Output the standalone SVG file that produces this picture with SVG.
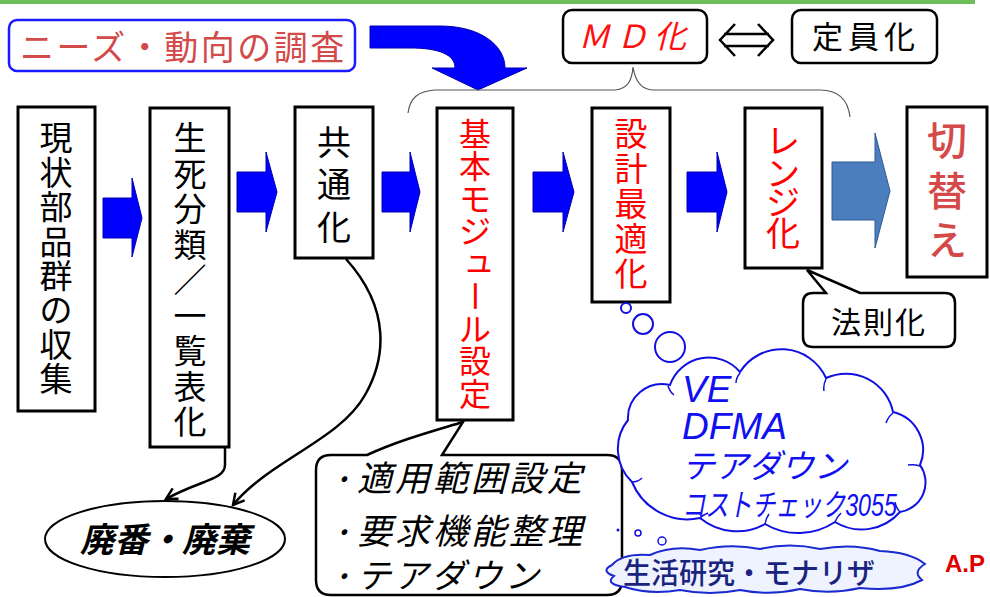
<svg xmlns="http://www.w3.org/2000/svg" width="990" height="597" viewBox="0 0 990 597">
<defs>
<style>
.jp{font-family:"Noto Sans CJK JP","Noto Sans",sans-serif;}
.box{fill:#fff;stroke:#000;stroke-width:3;}
.rbox{fill:#fff;stroke:#000;stroke-width:2.5;}
.barrow{fill:#0000ff;stroke:#0000b0;stroke-width:1;}
.vt{font-family:"Noto Sans CJK JP","Noto Sans",sans-serif;text-anchor:middle;}
.conn{fill:none;stroke:#000;stroke-width:2.5;}
.cloud{fill:#fff;stroke:#1010e0;stroke-width:2;}
.ct{font-family:"Liberation Sans","Noto Sans CJK JP",sans-serif;font-style:italic;fill:#1010f0;}
.cb{font-family:"Noto Sans CJK JP","Noto Sans",sans-serif;font-style:italic;fill:#000;}
</style>
<marker id="vhead" markerWidth="16" markerHeight="16" refX="13" refY="8" orient="auto" markerUnits="userSpaceOnUse">
<path d="M2,2 L13,8 L2,14" fill="none" stroke="#000" stroke-width="2.5"/>
</marker>
</defs>
<rect width="990" height="597" fill="#fff"/>
<rect x="0" y="0" width="975" height="4" fill="#6cbf5a"/>

<g id="needs">
<rect x="9" y="20" width="346" height="51" rx="8" fill="#fff" stroke="#1a1aff" stroke-width="2.5"/>
<text class="jp" x="20" y="60" font-size="34" fill="#d24a4a" letter-spacing="2.5">ニーズ・動向の調査</text>
</g>

<g id="md">
<rect class="rbox" x="563" y="10" width="144" height="53" rx="9"/>
<text class="jp" x="635" y="48" font-size="32" fill="#ff1010" font-style="italic" text-anchor="middle" letter-spacing="6">ＭＤ化</text>
</g>
<g id="teiin">
<rect class="rbox" x="792" y="10" width="145" height="53" rx="9"/>
<text class="jp" x="866" y="48" font-size="31" fill="#000" text-anchor="middle" letter-spacing="5">定員化</text>
</g>

<g id="box1">
<rect class="box" x="18" y="107" width="77" height="304"/>
<text class="vt" font-size="33" fill="#000"><tspan x="56" y="150">現</tspan><tspan x="56" y="185">状</tspan><tspan x="56" y="219">部</tspan><tspan x="56" y="254">品</tspan><tspan x="56" y="288">群</tspan><tspan x="56" y="322">の</tspan><tspan x="56" y="357">収</tspan><tspan x="56" y="391">集</tspan></text>
</g>
<g id="box2">
<rect class="box" x="150" y="108" width="79" height="339"/>
<text class="vt" font-size="33" fill="#000"><tspan x="190" y="150">生</tspan><tspan x="190" y="186">死</tspan><tspan x="190" y="221">分</tspan><tspan x="190" y="257">類</tspan><tspan x="190" y="292">／</tspan><tspan x="190" y="328">一</tspan><tspan x="190" y="363">覧</tspan><tspan x="190" y="399">表</tspan><tspan x="190" y="434">化</tspan></text>
</g>
<g id="box3">
<rect class="box" x="295" y="107" width="78" height="151"/>
<text class="vt" font-size="34" fill="#000"><tspan x="334" y="155">共</tspan><tspan x="334" y="197">通</tspan><tspan x="334" y="240">化</tspan></text>
</g>
<g id="box4">
<rect class="box" x="437" y="108" width="76" height="312"/>
<text class="vt" font-size="32" fill="#ff0000"><tspan x="475" y="146">基</tspan><tspan x="475" y="178">本</tspan><tspan x="475" y="211">モ</tspan><tspan x="475" y="243">ジ</tspan><tspan x="479" y="272">ュ</tspan></text>
<text class="vt" font-size="32" fill="#ff0000" x="475" y="308" transform="rotate(90 475 296)">ー</text>
<text class="vt" font-size="32" fill="#ff0000"><tspan x="475" y="341">ル</tspan><tspan x="475" y="373">設</tspan><tspan x="475" y="406">定</tspan></text>
</g>
<g id="box5">
<rect class="box" x="592" y="108" width="78" height="194"/>
<text class="vt" font-size="33" fill="#ff0000"><tspan x="631" y="146">設</tspan><tspan x="631" y="181">計</tspan><tspan x="631" y="216">最</tspan><tspan x="631" y="251">適</tspan><tspan x="631" y="286">化</tspan></text>
</g>
<g id="box6">
<rect class="box" x="745" y="108" width="77" height="160"/>
<text class="vt" font-size="34" fill="#ff0000"><tspan x="783" y="153">レ</tspan><tspan x="783" y="186">ン</tspan><tspan x="783" y="215">ジ</tspan><tspan x="783" y="246">化</tspan></text>
</g>
<g id="box7">
<rect class="box" x="907" y="107" width="80" height="170"/>
<text class="vt" font-size="40" fill="#d44a4a" font-weight="500"><tspan x="947" y="155">切</tspan><tspan x="947" y="206">替</tspan><tspan x="947" y="255">え</tspan></text>
</g>

<g id="haiban">
<ellipse cx="165" cy="539" rx="120" ry="38" fill="#fff" stroke="#000" stroke-width="2"/>
<text class="jp" x="165" y="552" font-size="34" font-weight="bold" font-style="italic" text-anchor="middle">廃番・廃棄</text>
</g>

<g id="callout-kihon">
<path d="M331,455 L367,455 C400,440 430,432 463,422 L442,455 L607,455 Q622,455 622,470 L622,580 Q622,595 607,595 L331,595 Q316,595 316,580 L316,470 Q316,455 331,455 Z" fill="#fff" stroke="#000" stroke-width="2.5"/>
<text class="cb" x="342" y="489" font-size="26" text-anchor="middle">・</text>
<text class="cb" x="357" y="491" font-size="35" letter-spacing="3">適用範囲設定</text>
<text class="cb" x="342" y="542" font-size="26" text-anchor="middle">・</text>
<text class="cb" x="357" y="544" font-size="35" letter-spacing="3">要求機能整理</text>
<text class="cb" x="342" y="586" font-size="26" text-anchor="middle">・</text>
<text class="cb" x="357" y="588" font-size="34" letter-spacing="3">テアダウン</text>
</g>

<g id="callout-hosoku">
<path d="M813,293 L826,293 L807,270 L860,293 L945,293 Q955,293 955,303 L955,337 Q955,347 945,347 L813,347 Q803,347 803,337 L803,303 Q803,293 813,293 Z" fill="#fff" stroke="#000" stroke-width="2.5"/>
<text class="jp" x="879" y="333" font-size="30" text-anchor="middle" letter-spacing="2">法則化</text>
</g>

<g id="cloud-ve">
<circle cx="626" cy="308" r="5" fill="#fff" stroke="#1010e0" stroke-width="2"/>
<circle cx="643" cy="324" r="10" fill="#fff" stroke="#1010e0" stroke-width="2"/>
<circle cx="670" cy="347" r="15" fill="#fff" stroke="#1010e0" stroke-width="2"/>
<path class="cloud" d="M632,482 A46,46 0 0 1 628,420 A34,34 0 0 1 670,385 A41,41 0 0 1 740,372 A49,49 0 0 1 826,378 A48,48 0 0 1 893,412 A39,39 0 0 1 920,465 A30,30 0 0 1 900,512 A51,51 0 0 1 835,522 A66,66 0 0 1 765,524 A58,58 0 0 1 700,518 A60,60 0 0 1 632,482 Z"/>
<path d="M668,386 q2,6 6,9 M740,373 q-4,5 -4,10 M826,379 q-3,6 -2,12 M893,413 q-5,4 -7,10 M920,466 q-6,-2 -12,-1 M900,512 q-4,-4 -5,-10 M835,522 q2,-5 6,-9 M765,524 q1,-6 4,-10 M700,518 q3,-3 8,-5 M632,482 q6,0 10,-4" fill="none" stroke="#1010e0" stroke-width="1.5"/>
<text class="ct" x="682" y="402" font-size="37">VE</text>
<text class="ct" x="682" y="439" font-size="37">DFMA</text>
<text class="ct" x="682" y="478" font-size="33">テアダウン</text>
<text class="ct" x="682" y="516" font-size="31" textLength="215" lengthAdjust="spacingAndGlyphs">コストチェック3055</text>
</g>

<g id="cloud-seikatsu">
<circle cx="618" cy="530" r="1.5" fill="#1010e0"/>
<circle cx="638" cy="533" r="3" fill="#fff" stroke="#1010e0" stroke-width="1.5"/>
<circle cx="662" cy="541" r="4" fill="#fff" stroke="#1010e0" stroke-width="1.5"/>
<path d="M612,565 Q622,553 650,555 Q672,545 700,550 Q730,543 760,549 Q790,542 820,549 Q852,543 880,551 Q910,552 925,564 Q912,572 922,580 Q900,592 860,588 Q830,595 800,589 Q770,596 740,590 Q710,596 680,590 Q650,595 625,587 Q604,584 614,576 Q600,571 612,565 Z" fill="#eef3ff" stroke="#1a2ad0" stroke-width="2"/>
<text class="jp" x="623" y="584" font-size="29" fill="#1a237e" font-weight="500" textLength="252" lengthAdjust="spacingAndGlyphs">生活研究・モナリザ</text>
</g>

<g id="ap">
<text x="945" y="572" font-family="Liberation Sans, sans-serif" font-weight="bold" font-size="24" fill="#e00000">A.P</text>
</g>

<g id="connectors">
<path class="barrow" d="M370,26 L440,26 C480,26 505,45 505,68 L527,68 L478,90 L432,68 L455,68 C455,55 440,48 410,48 L370,48 Z"/>
<polygon class="barrow" points="103,198 132,198 132,178 142,218 132,257 132,238 103,238"/>
<polygon class="barrow" points="237,172 266,172 266,152 277,192 266,232 266,212 237,212"/>
<polygon class="barrow" points="382,172 410,172 410,152 420,192 410,232 410,212 382,212"/>
<polygon class="barrow" points="533,172 563,172 563,152 574,192 563,232 563,212 533,212"/>
<polygon class="barrow" points="687,172 717,172 717,152 727,192 717,232 717,212 687,212"/>
<polygon points="832,162 875,162 875,133 890,191 875,248 875,220 832,220" fill="#4a7ebf" stroke="#2f5a92" stroke-width="1"/>
<path d="M408,113 C410,98 418,91 435,90 L615,90 C628,89 632,80 633,67 C635,80 640,89 652,90 L820,90 C838,90 848,100 850,117" fill="none" stroke="#555" stroke-width="1.2"/>
<path d="M735,24 L720,40 L735,56 M758,24 L773,40 L758,56 M724,34 L769,34 M724,46 L769,46" fill="none" stroke="#000" stroke-width="2.5"/>
<path class="conn" d="M225,447 L225,465 C225,480 200,480 166,499" marker-end="url(#vhead)"/>
<path class="conn" d="M346,259 C392,310 385,360 365,395 C340,440 270,460 233,505" marker-end="url(#vhead)"/>
</g>
</svg>
